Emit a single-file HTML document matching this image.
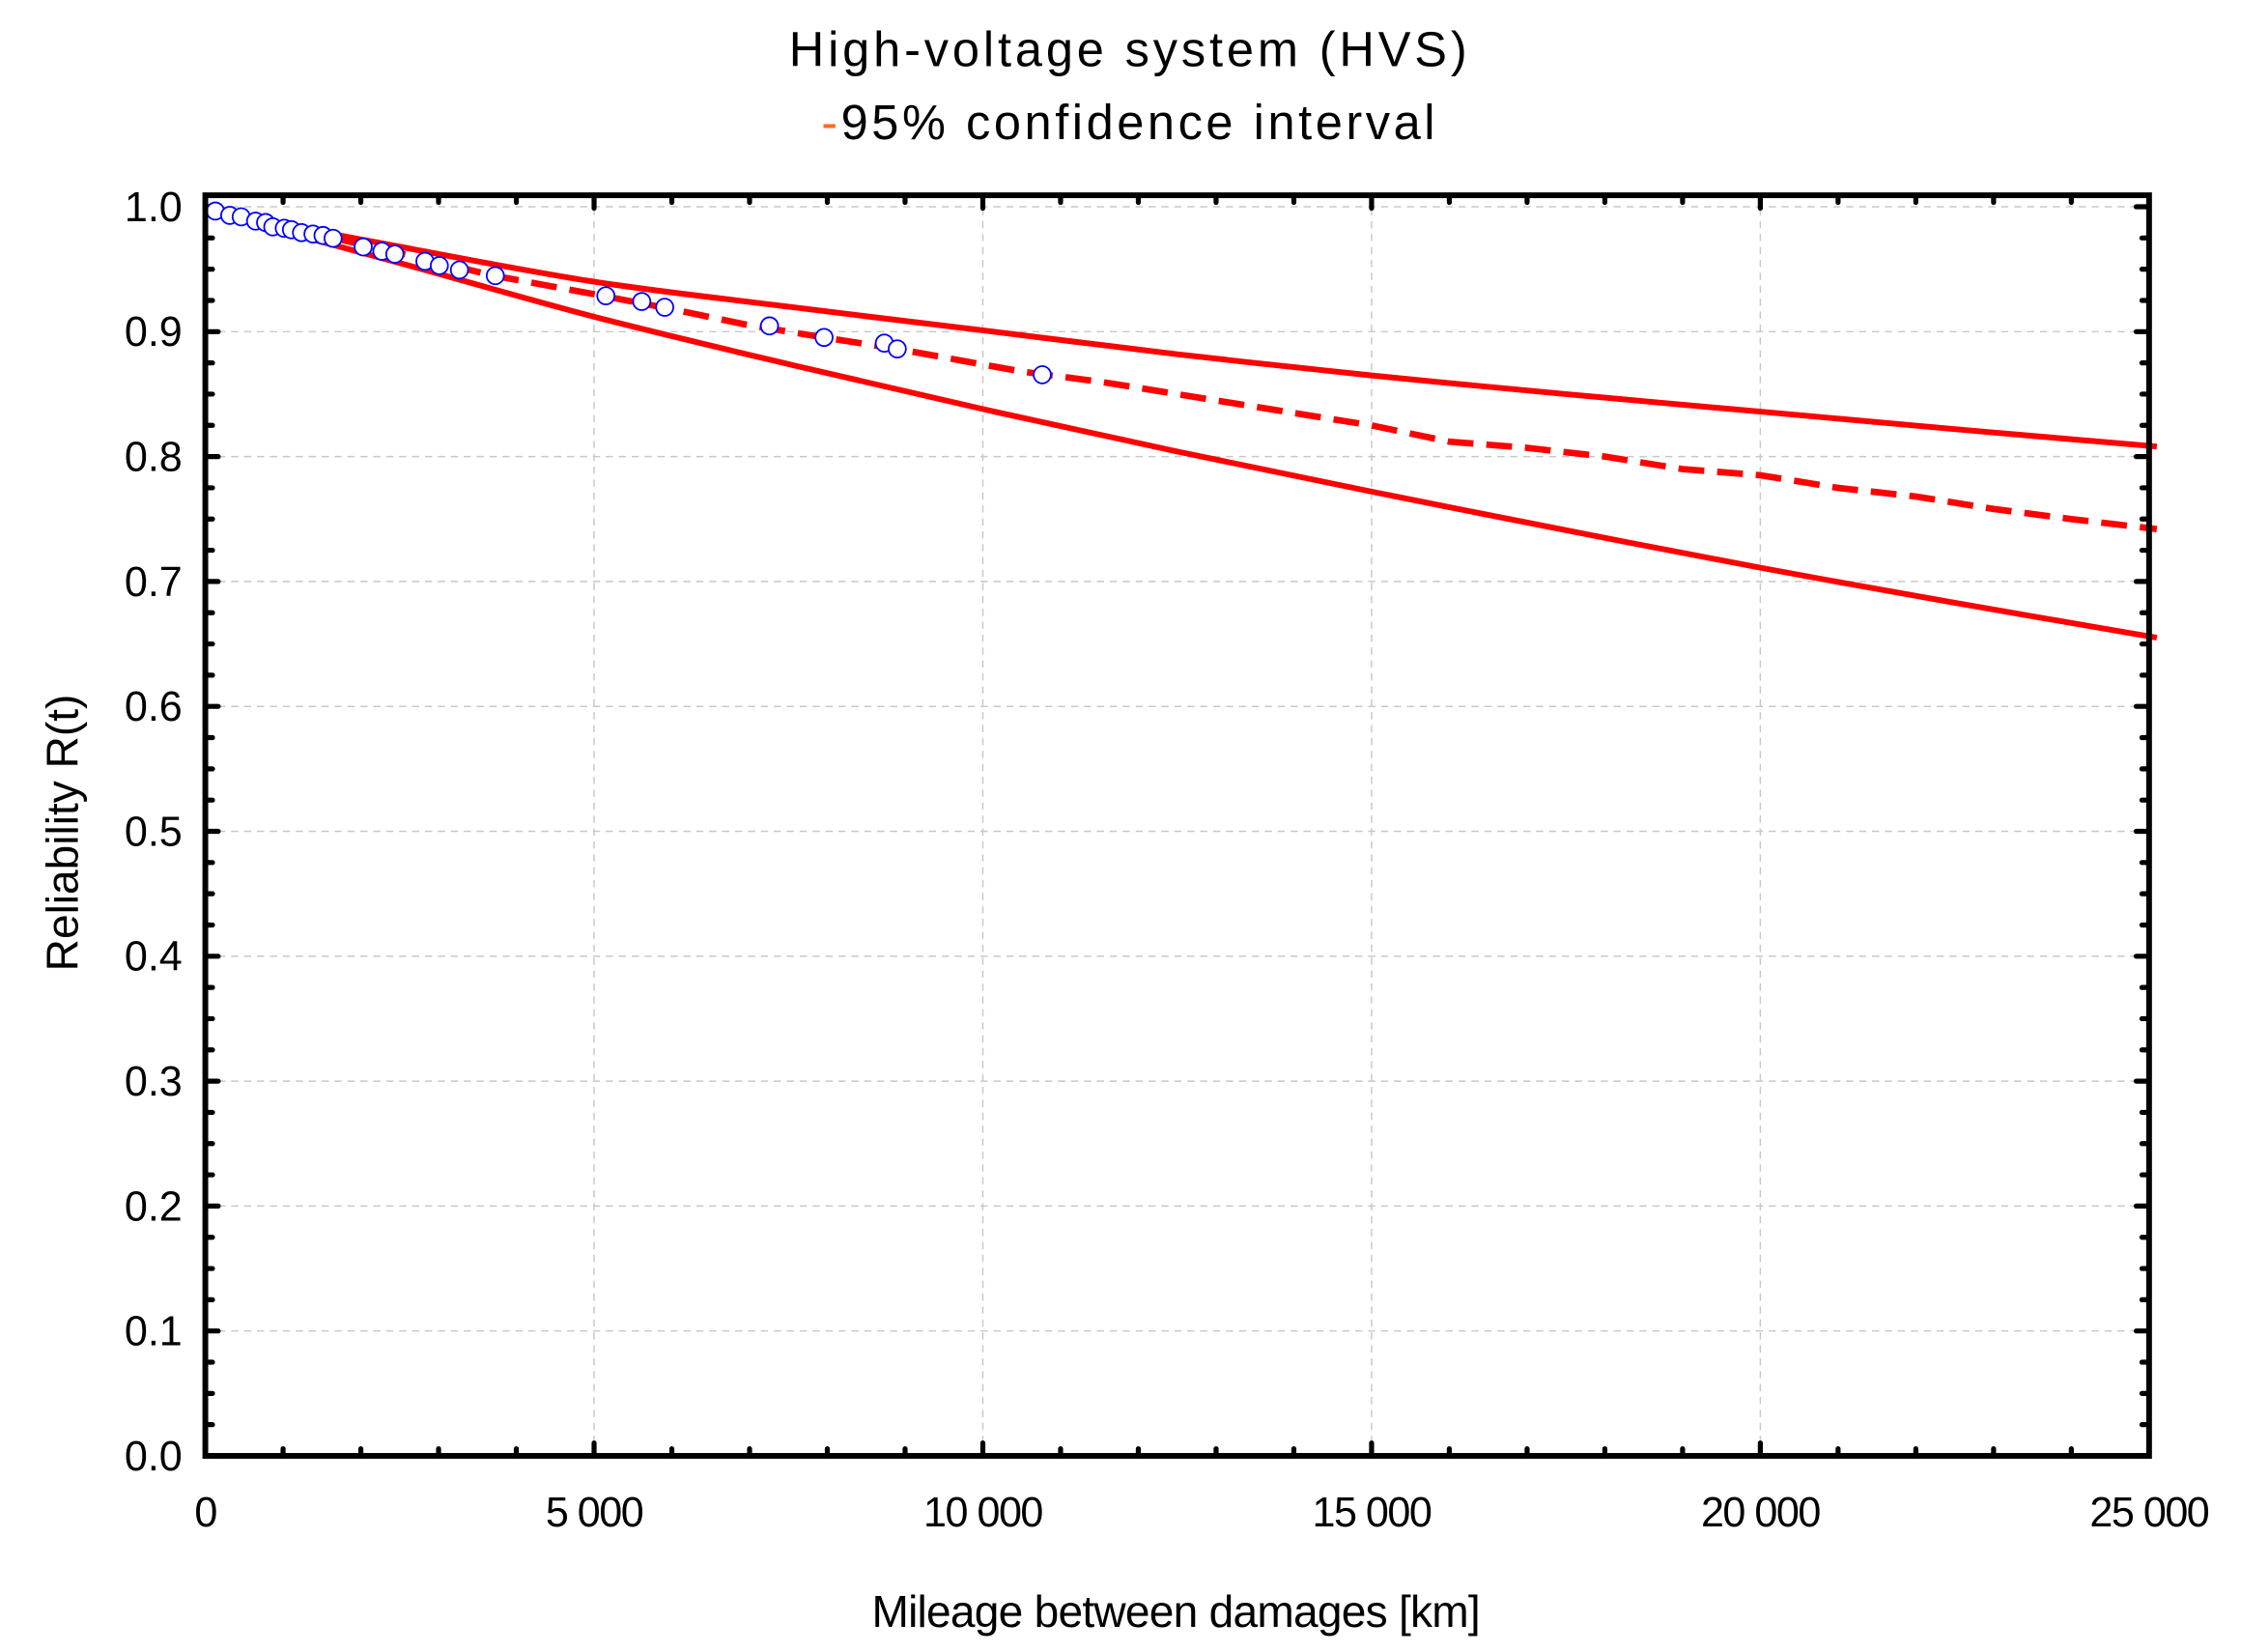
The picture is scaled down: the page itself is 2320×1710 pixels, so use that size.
<!DOCTYPE html>
<html><head><meta charset="utf-8"><style>html,body{margin:0;padding:0;background:#fff}svg{display:block}text{font-family:"Liberation Sans",Arial,sans-serif}</style></head>
<body>
<svg id="s" xmlns="http://www.w3.org/2000/svg" width="2320" height="1710" viewBox="0 0 1561 1150.6">
<rect width="1561" height="1151" fill="#fff"/>
<text x="787" y="46" font-size="34" text-anchor="middle" letter-spacing="2.6">High-voltage system (HVS)</text>
<text x="787" y="97" font-size="34" text-anchor="middle" letter-spacing="2.4"><tspan fill="#ff6a1a">-</tspan>95% confidence interval</text>
<g id="g"></g>
<text transform="translate(54,580) rotate(-90)" font-size="31" text-anchor="middle">Reliability R(t)</text>
<text x="819" y="1133" font-size="31" text-anchor="middle" letter-spacing="-0.5">Mileage between damages [km]</text>
</svg>
<script>
const L=143,R=1497,T=136,B=1014;
const X=v=>L+v/25000*(R-L), Y=r=>B-r*870;
let h='';
for(let i=0;i<=10;i++){let y=Y(i/10);h+=`<line x1="${L}" x2="${R}" y1="${y}" y2="${y}" stroke="#c8c8c8" stroke-dasharray="5,4" stroke-width="1"/>`;
h+=`<text x="127" y="${y+10}" font-size="29" text-anchor="end">${(i/10).toFixed(1)}</text>`;}
for(let i=0;i<=5;i++){let x=X(i*5000);if(i>0&&i<5)h+=`<line x1="${x}" x2="${x}" y1="${T}" y2="${B}" stroke="#c8c8c8" stroke-dasharray="5,4" stroke-width="1"/>`;
h+=`<text x="${x}" y="${B+49}" font-size="29" text-anchor="middle" letter-spacing="-1">${i==0?'0':(i*5)+' 000'}</text>`;}
for(let i=0;i<=40;i++){let y=Y(i/40),len=i%4==0?9:5;
h+=`<line x1="${L}" x2="${L+len}" y1="${y}" y2="${y}" stroke="#000" stroke-width="3.5" stroke-linecap="round"/><line x1="${R}" x2="${R-len}" y1="${y}" y2="${y}" stroke="#000" stroke-width="3.5" stroke-linecap="round"/>`;}
for(let i=0;i<=25;i++){let x=X(i*1000),len=i%5==0?9:5;
h+=`<line x1="${x}" x2="${x}" y1="${B}" y2="${B-len}" stroke="#000" stroke-width="3.5" stroke-linecap="round"/><line x1="${x}" x2="${x}" y1="${T}" y2="${T+len}" stroke="#000" stroke-width="3.5" stroke-linecap="round"/>`;}
function path(pts){return pts.map((p,i)=>(i?'L':'M')+X(p[0]).toFixed(1)+','+Y(p[1]).toFixed(1)).join('');}
function smooth(pts){let d='M'+X(pts[0][0])+','+Y(pts[0][1]);
for(let i=0;i<pts.length-1;i++){let p0=pts[Math.max(0,i-1)],p1=pts[i],p2=pts[i+1],p3=pts[Math.min(pts.length-1,i+2)];
let c1=[p1[0]+(p2[0]-p0[0])/6,p1[1]+(p2[1]-p0[1])/6],c2=[p2[0]-(p3[0]-p1[0])/6,p2[1]-(p3[1]-p1[1])/6];
d+=`C${X(c1[0]).toFixed(1)},${Y(c1[1]).toFixed(1)} ${X(c2[0]).toFixed(1)},${Y(c2[1]).toFixed(1)} ${X(p2[0]).toFixed(1)},${Y(p2[1]).toFixed(1)}`;}return d;}
const up=[[300,0.994],[2500,0.968],[5000,0.94],[7500,0.92],[10000,0.901],[12500,0.882],[15000,0.865],[17500,0.85],[20000,0.836],[22500,0.822],[25100,0.808]];
const lo=[[300,0.992],[2500,0.955],[5000,0.912],[7500,0.874],[10000,0.838],[12500,0.804],[15000,0.772],[17500,0.741],[20000,0.711],[22500,0.683],[25100,0.655]];
const da=[[300,0.993],[1500,0.977],[2500,0.963],[3700,0.945],[5000,0.93],[6000,0.918],[7000,0.905],[8000,0.895],[9000,0.885],[10500,0.868],[11500,0.86],[12000,0.855],[13000,0.845],[14000,0.835],[15000,0.825],[16000,0.812],[17000,0.807],[18000,0.8],[19000,0.79],[20000,0.785],[21000,0.775],[22000,0.768],[23000,0.758],[24000,0.75],[25100,0.742]];
h+=`<path d="${smooth(up)}" fill="none" stroke="#ff0000" stroke-width="4"/><path d="${smooth(lo)}" fill="none" stroke="#ff0000" stroke-width="4"/><path d="${path(da)}" fill="none" stroke="#ff0000" stroke-width="4.5" stroke-dasharray="18,9"/>`;
const P=[[150,147],[160,150],[168,151],[178,154],[185,155],[190,158],[198,159],[203,160],[210,162],[218,163],[225,164],[232,166],[253,172],[266,175],[275,177],[296,182],[306,185],[320,188],[345,192],[422,206],[447,210],[463,214],[536,227],[574,235],[616,239],[625,243],[726,261]];
P.forEach(p=>{h+=`<circle cx="${p[0]}" cy="${p[1]}" r="6" fill="#fff" stroke="#0000ff" stroke-width="1.2"/>`;});
h+=`<rect x="${L}" y="${T}" width="${R-L}" height="${B-T}" fill="none" stroke="#000" stroke-width="4"/>`;
document.getElementById('g').innerHTML=h;
</script>
</body></html>
